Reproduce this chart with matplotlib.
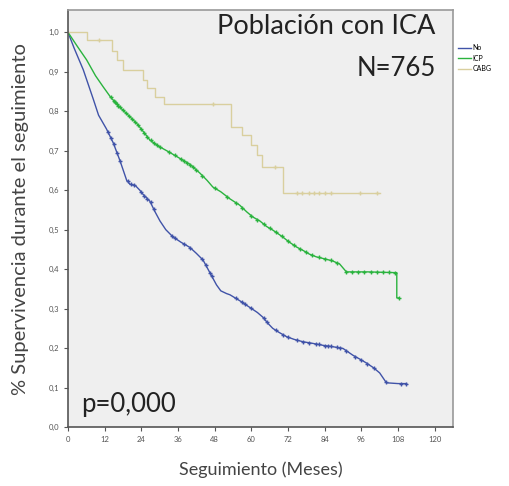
import numpy as np
import matplotlib
matplotlib.use("Agg")
import matplotlib.pyplot as plt
from matplotlib.ticker import FuncFormatter

plt.rcParams['font.family'] = ['Lato', 'DejaVu Sans']

# Kaplan-Meier curves (months, survival)
no_t = [0, 2, 5, 8.3, 10, 12.6, 14.8, 17, 19.2, 20.3, 22, 23.5, 24.5, 26.8, 28.5, 30.1,
        32, 34.3, 37, 39.9, 42, 44.2, 46.5, 48.6, 50, 51.9, 53, 56.2, 59.5, 62, 63.8,
        65.5, 67, 69, 71.5, 74, 76.9, 80, 83.4, 87, 90, 93.2, 95.5, 97.7, 100, 102,
        104.2, 108, 110.8]
no_s = [1.0, 0.96, 0.905, 0.83, 0.79, 0.755, 0.72, 0.675, 0.625, 0.615, 0.612, 0.60,
        0.59, 0.572, 0.545, 0.522, 0.50, 0.482, 0.468, 0.455, 0.44, 0.423, 0.39, 0.36,
        0.345, 0.338, 0.335, 0.32, 0.303, 0.29, 0.278, 0.262, 0.25, 0.24, 0.229, 0.222,
        0.216, 0.212, 0.207, 0.203, 0.199, 0.182, 0.172, 0.162, 0.15, 0.137, 0.112,
        0.11, 0.11]

icp_t = [0, 3, 6.1, 9, 11.5, 14, 17, 20, 22.5, 25, 26.8, 29.5, 32.3, 35, 37.6, 40,
         43.2, 45.5, 47.4, 50, 53, 56.2, 58.5, 60.5, 62.8, 65, 67, 70, 72.5, 74.8, 77,
         79, 81.3, 84, 86.5, 88.9, 91.1, 98, 107.6, 107.6, 108.2]
icp_s = [1.0, 0.965, 0.93, 0.89, 0.862, 0.835, 0.81, 0.788, 0.769, 0.745, 0.727, 0.712,
         0.70, 0.688, 0.676, 0.665, 0.643, 0.625, 0.608, 0.596, 0.578, 0.562, 0.545,
         0.532, 0.522, 0.508, 0.499, 0.483, 0.468, 0.456, 0.447, 0.438, 0.431, 0.426,
         0.421, 0.413, 0.393, 0.393, 0.391, 0.327, 0.327]

cabg_t = [0, 6.1, 14.5, 16, 18, 24.5, 26, 28.5, 31.5, 53.5, 57, 60, 62, 63.5, 70.5, 102]
cabg_s = [1.0, 0.98, 0.952, 0.93, 0.905, 0.88, 0.858, 0.837, 0.819, 0.76, 0.74, 0.715,
          0.69, 0.659, 0.593, 0.593]

# censored observations (months)
no_cens = [13, 14, 15, 16, 17, 19.5, 20.5, 21.5, 24, 25, 26, 27, 28, 34, 35, 38, 40, 44,
           45, 46.5, 47, 55, 57, 58, 60, 64, 65, 68, 70.5, 72, 75, 77, 79, 81, 82, 84, 85,
           86, 88, 89, 91, 94, 96, 98, 100, 104, 109, 110.5]
icp_cens = [14, 15, 15.5, 16, 16.5, 17, 18, 19, 20, 21, 22, 23, 24, 25, 26, 27, 28, 29,
            30, 33, 35, 37, 38, 39, 40, 41, 42, 44, 48, 52, 55, 57, 60, 62, 64, 66, 68, 70,
            72, 74, 76, 78, 80, 82, 84, 86, 88, 91, 93, 95, 97, 99, 101, 103, 105, 107,
            108.2]
cabg_cens = [10, 47.4, 67.7, 75, 76.5, 79, 80.5, 82, 84, 86, 95.5, 101]

colors = {'No': '#4053a8', 'ICP': '#2ab33e', 'CABG': '#d9cf9e'}

fig = plt.figure(figsize=(5.09, 4.86), dpi=100)
ax = fig.add_axes([0.1336, 0.1214, 0.7564, 0.8576])
ax.set_facecolor('#efefef')

series = [('No', no_t, no_s, no_cens, 'default'),
          ('ICP', icp_t, icp_s, icp_cens, 'default'),
          ('CABG', cabg_t, cabg_s, cabg_cens, 'steps-post')]
for name, t, s, cens, ds in series:
    c = colors[name]
    ax.plot(t, s, color=c, lw=1.0, drawstyle=ds, label=name)
    if ds == 'default':
        cy = np.interp(cens, t, s)
    else:
        idx = np.searchsorted(t, cens, side='right') - 1
        cy = np.array(s)[idx]
    ax.plot(cens, cy, ls='none', marker='+', ms=3, mew=1.0, color=c)

ax.set_xlim(0, 126)
ax.set_ylim(0, 1.056)
ax.set_xticks(np.arange(0, 121, 12))
ax.set_yticks(np.arange(0, 1.01, 0.1))
ax.yaxis.set_major_formatter(FuncFormatter(lambda v, p: f"{v:.1f}".replace('.', ',')))
ax.tick_params(labelsize=5.5, labelcolor='#555555', color='#555555', length=3, width=0.8)
for side in ['left', 'bottom']:
    ax.spines[side].set_color('#555555')
    ax.spines[side].set_linewidth(1.2)
for side in ['top', 'right']:
    ax.spines[side].set_color('#999999')
    ax.spines[side].set_linewidth(1.2)

ax.set_xlabel("Seguimiento (Meses)", fontsize=13, color='#444444', labelpad=13)
ax.set_ylabel("% Supervivencia durante el seguimiento", fontsize=14.5, color='#444444',
              labelpad=14)

ax.text(0.955, 0.99, "Población con ICA", transform=ax.transAxes, ha='right', va='top',
        fontsize=19.5, color='#222222')
ax.text(0.955, 0.89, "N=765", transform=ax.transAxes, ha='right', va='top',
        fontsize=18.5, color='#222222')
ax.text(0.035, 0.025, "p=0,000", transform=ax.transAxes, ha='left', va='bottom',
        fontsize=18.5, color='#222222')

fig.legend(loc='upper left', bbox_to_anchor=(0.895, 0.915), fontsize=5, frameon=False,
           handlelength=1.8, labelspacing=0.5, handletextpad=0.2, borderaxespad=0)

fig.savefig("out.png", dpi=100)
